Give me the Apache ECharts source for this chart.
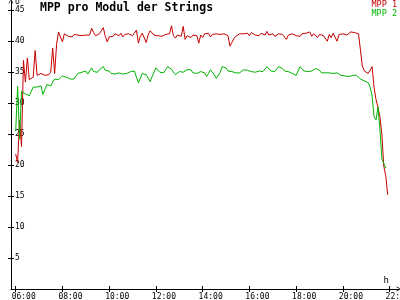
<!DOCTYPE html>
<html>
<head>
<meta charset="utf-8">
<script src="https://cdn.jsdelivr.net/npm/echarts@6/dist/echarts.min.js"></script>
<style>
html,body{margin:0;padding:0;background:#fff;}
#chart{width:400px;height:300px;}
</style>
</head>
<body>
<div id="chart"></div>
<script>
// ---- data ----
const titleText = 'MPP pro Modul der Strings';
const seriesNames = ['MPP 1', 'MPP 2'];
const startHour = 6;          // first sample 06:00
const stepMinutes = 5;        // sampling interval
const xTickHours = [6, 8, 10, 12, 14, 16, 18, 20, 22];
const xTickLabels = ['06:00', '08:00', '10:00', '12:00', '14:00', '16:00', '18:00', '20:00', '22:00'];
const yTickValues = [5, 10, 15, 20, 25, 30, 35, 40, 45];

const mpp1 = [
  21.8, 20.4, 27.2, 23.0, 36.9, 33.4, 37.3, 33.8, 33.5, 34.2,
  38.5, 34.5, 34.4, 34.8, 34.6, 34.5, 34.7, 34.6, 35.0, 38.9,
  34.8, 39.5, 41.5, 41.3, 39.9, 41.2, 41.3, 40.8, 41.0, 40.7,
  41.1, 40.9, 41.0, 40.7, 40.9, 40.6, 41.0, 41.2, 41.0, 42.1,
  41.4, 40.9, 40.6, 41.2, 41.0, 42.2, 40.8, 39.9, 40.7, 41.0,
  40.8, 41.2, 41.0, 40.9, 41.3, 40.7, 41.1, 40.9, 41.2, 41.0,
  40.9, 41.2, 41.8, 39.7, 40.8, 41.3, 41.0, 39.8, 41.0, 41.7,
  41.4, 41.0, 40.8, 40.9, 41.2, 40.8, 41.0, 41.1, 40.9, 41.2,
  42.5, 40.9, 40.5, 41.0, 41.1, 40.8, 42.4, 40.3, 40.9, 41.2,
  40.6, 41.0, 40.8, 40.9, 39.7, 41.0, 40.6, 41.2, 40.9, 41.3,
  40.7, 41.1, 40.8, 41.2, 41.0, 41.1, 40.8, 41.2, 41.0, 40.9,
  39.2, 39.8, 40.4, 40.8, 41.0, 41.2, 41.4, 41.2, 41.0, 41.3,
  40.9, 41.4, 41.1, 41.0, 41.2, 40.9, 41.3, 41.1, 41.0, 41.6,
  41.0, 41.3, 41.2, 40.8, 41.0, 41.2, 40.9, 41.1, 41.0, 40.3,
  41.0, 40.7, 41.2, 41.5, 40.9, 41.1, 40.8, 41.2, 41.0, 41.3,
  41.1, 41.5, 40.8, 41.2, 40.9, 40.6, 41.1, 41.2, 40.9, 40.6,
  40.0, 41.1, 40.6, 41.3, 41.0, 40.0, 41.1, 41.3, 41.2, 41.4,
  41.0, 41.3, 41.5, 41.2, 41.4, 41.3, 41.2,
  41.0, 36.0, 35.2, 35.0, 34.8, 34.6, 35.9, 32.5, 30.6, 29.3,
  27.8, 25.0, 19.8, 18.3, 15.2
];

const mpp2 = [
  25.5, 32.7, 24.2, 31.9, 32.2, 31.5, 31.7, 31.2, 31.4, 32.6,
  32.8, 32.6, 32.9, 32.8, 31.4, 32.2, 33.0, 33.3, 32.8, 33.4,
  33.9, 34.1, 33.8, 34.1, 34.4, 34.6, 34.2, 34.3, 33.9, 34.0,
  33.9, 34.4, 34.8, 34.6, 35.0, 35.1, 35.2, 34.7, 34.6, 35.7,
  35.1, 35.3, 35.0, 35.4, 35.2, 35.9, 35.3, 35.4, 35.2, 34.8,
  34.6, 34.7, 34.5, 34.9, 34.8, 34.7, 35.0, 34.8, 34.5, 35.1,
  35.0, 35.2, 34.2, 33.3, 33.6, 34.8, 34.9, 34.6, 34.5, 33.5,
  33.8, 35.0, 35.7, 35.6, 35.0, 34.7, 34.9, 35.4, 35.9, 35.7,
  35.5, 35.0, 34.6, 34.9, 35.1, 34.9, 35.0, 34.9, 35.4, 35.6,
  35.4, 34.9, 34.6, 34.8, 35.1, 35.1, 35.0, 34.9, 34.3, 34.8,
  35.4, 35.3, 34.6, 34.0, 34.3, 35.0, 35.9, 36.0, 35.7, 35.2,
  35.4, 35.1, 34.9, 34.9, 35.0, 34.9, 35.2, 35.4, 35.4, 35.3,
  35.2, 35.1, 35.3, 35.0, 35.3, 35.2, 35.3, 35.1, 35.4, 35.9,
  35.6, 35.2, 35.2, 35.1, 35.3, 35.9, 36.2, 35.6, 35.2, 35.0,
  35.1, 35.0, 34.8, 34.6, 34.5, 35.2, 35.9, 35.8, 35.2, 35.0,
  35.1, 35.2, 35.2, 35.4, 35.6, 35.9, 35.3, 34.9, 34.8, 34.9,
  35.0, 34.9, 35.1, 34.8, 35.0, 34.9, 34.6, 34.5, 34.6, 34.4,
  34.6, 34.3, 34.6, 34.5, 34.7, 34.5, 34.3, 33.9, 33.8, 33.6,
  33.4, 33.3, 32.6, 31.1, 27.8, 27.3, 29.4, 25.8, 21.0, 20.3,
  19.5
];

// ---- chart ----
const RED = '#c80000';
const GREEN = '#00b400';
const MONO = '"DejaVu Sans Mono", "Liberation Mono", monospace';
const toPairs = arr => arr.map((v, i) => [startHour + i * stepMinutes / 60, v]);
const xLabelOf = v => { const k = xTickHours.indexOf(v); return k >= 0 ? xTickLabels[k] : ''; };

const X_MIN = 5.8, X_MAX = 22.4, Y_MIN = 0, Y_MAX = 46.5;
const arrowPath = 'path://M0,10 L5,0 L10,10 L8.6,10 L5,2.6 L1.4,10 Z';

const chart = echarts.init(document.getElementById('chart'), null, {renderer: 'canvas'});
chart.setOption({
  animation: false,
  backgroundColor: '#fff',
  title: {
    text: titleText, left: 40, top: 2, padding: 0,
    textStyle: {fontFamily: MONO, fontWeight: 'bold', fontSize: 11.5, color: '#000'}
  },
  legend: {
    orient: 'vertical', right: 3, top: 0, padding: 0, itemGap: 0,
    itemWidth: 0, itemHeight: 7, icon: 'rect', selectedMode: false,
    textStyle: {fontFamily: MONO, fontSize: 8.5, lineHeight: 7, padding: [0, 0, 0, -5]},
    data: [
      {name: seriesNames[0], textStyle: {color: RED}},
      {name: seriesNames[1], textStyle: {color: GREEN}}
    ]
  },
  grid: {left: 11, right: 1, top: 1, bottom: 11, containLabel: false, outerBoundsMode: 'none'},
  xAxis: [{
    type: 'value', min: X_MIN, max: X_MAX, position: 'bottom',
    name: 'h', nameLocation: 'end', nameGap: 0,
    nameTextStyle: {fontFamily: MONO, fontSize: 9, color: '#000', align: 'right', verticalAlign: 'bottom', padding: [0, 10, 4, 0]},
    axisLine: {onZero: false, lineStyle: {color: '#000', width: 1}, symbol: ['none', arrowPath], symbolSize: [6, 5]},
    axisTick: {show: true, length: 3, lineStyle: {color: '#000'}, customValues: xTickHours},
    axisLabel: {
      fontFamily: MONO, fontSize: 8, color: '#000', margin: 4,
      customValues: xTickHours, formatter: xLabelOf, padding: [0, 0, 0, 16]
    },
    splitLine: {show: false}
  }, {
    type: 'value', min: X_MIN, max: X_MAX, position: 'bottom',
    axisLine: {show: false, onZero: false},
    axisTick: {show: true, inside: true, length: 3, lineStyle: {color: '#000'}, customValues: xTickHours},
    axisLabel: {show: false},
    splitLine: {show: false}
  }],
  yAxis: [{
    type: 'value', min: Y_MIN, max: Y_MAX, position: 'left',
    name: 'U', nameLocation: 'end', nameGap: 0,
    nameTextStyle: {fontFamily: MONO, fontSize: 8, color: '#000', align: 'left', verticalAlign: 'top', padding: [1, 0, 0, 4]},
    axisLine: {onZero: false, lineStyle: {color: '#000', width: 1}, symbol: ['none', arrowPath], symbolSize: [5, 6]},
    axisTick: {show: true, length: 3, lineStyle: {color: '#000'}, customValues: yTickValues},
    axisLabel: {inside: true, margin: 4, fontFamily: MONO, fontSize: 8, color: '#000', customValues: yTickValues},
    splitLine: {show: false}
  }, {
    type: 'value', min: Y_MIN, max: Y_MAX, position: 'left',
    axisLine: {show: false, onZero: false},
    axisTick: {show: true, inside: true, length: 3, lineStyle: {color: '#000'}, customValues: yTickValues},
    axisLabel: {show: false},
    splitLine: {show: false}
  }],
  series: [{
    name: seriesNames[0], type: 'line', data: toPairs(mpp1),
    showSymbol: false, symbol: 'none', color: RED,
    lineStyle: {color: RED, width: 1}, xAxisIndex: 0, yAxisIndex: 0
  }, {
    name: seriesNames[1], type: 'line', data: toPairs(mpp2),
    showSymbol: false, symbol: 'none', color: GREEN,
    lineStyle: {color: GREEN, width: 1}, xAxisIndex: 0, yAxisIndex: 0
  }]
});
</script>
</body>
</html>
